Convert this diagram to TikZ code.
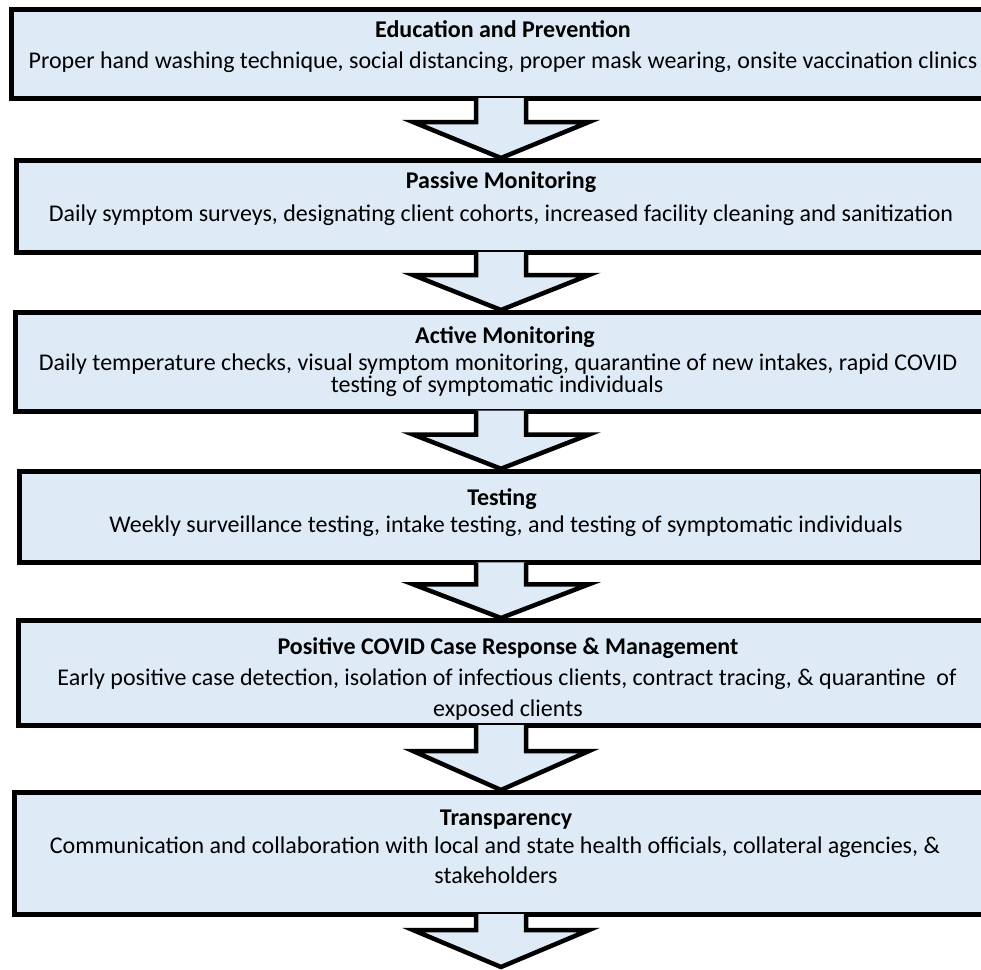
\documentclass[tikz,border=0pt]{standalone}
\usepackage{fontspec}
\setmainfont{Carlito}
\usepackage{tikz}
\usetikzlibrary{calc}

\definecolor{stepfill}{HTML}{DEEBF7}

\tikzset{
  stepbox/.style={draw=black, line width=5pt, fill=stepfill, inner sep=0pt},
  steptitle/.style={anchor=base, inner sep=0pt, font=\fontsize{24}{28}\selectfont\bfseries},
  steptext/.style={anchor=base, inner sep=0pt, font=\fontsize{24}{28}\selectfont},
  blockarrow/.style={draw=black, line width=4.5pt, fill=stepfill, line join=miter}
}

% block arrow from the bottom of one box to the top of the next
\newcommand{\flowarrow}[3]{%
  \draw[blockarrow] ($(#1.south)+(-25,-3)$) -- ($(#1.south)+(-25,#3)$)
    -- ($(#1.south)+(-88,#3)$) -- (#2) -- ($(#1.south)+(88,#3)$)
    -- ($(#1.south)+(25,#3)$) -- ($(#1.south)+(25,-3)$);}

\begin{document}
\begin{tikzpicture}[x=1pt, y=-1pt]
    \useasboundingbox (0,0) rectangle (981,969);
    \clip (0,0) rectangle (981,969);

    \node [stepbox, minimum width=979, minimum height=89] (educ) at (501,54) {};
    \node [stepbox, minimum width=970, minimum height=92] (passive) at (501,206.5) {};
    \node [stepbox, minimum width=972, minimum height=98.5] (active) at (501,361.75) {};
    \node [stepbox, minimum width=963, minimum height=91.5] (testing) at (501,517) {};
    \node [stepbox, minimum width=965, minimum height=105] (positive) at (501,673) {};
    \node [stepbox, minimum width=973, minimum height=122] (transp) at (501,853.5) {};
    \coordinate (bottomtip) at (501,967);

    \flowarrow{educ}{passive.north}{21}
    \flowarrow{passive}{active.north}{20}
    \flowarrow{active}{testing.north}{21}
    \flowarrow{testing}{positive.north}{19}
    \flowarrow{positive}{transp.north}{23}
    \flowarrow{transp}{bottomtip}{13}

    \node [steptitle] (eductitle) at (503,37) {Education and Prevention};
    \node [steptext] (eductext) at (503,68) {Proper hand washing technique, social distancing, proper mask wearing, onsite vaccination clinics};

    \node [steptitle] (passivetitle) at (501,188) {Passive Monitoring};
    \node [steptext] (passivetext) at (501,221) {Daily symptom surveys, designating client cohorts, increased facility cleaning and sanitization};

    \node [steptitle] (activetitle) at (505,343) {Active Monitoring};
    \node [steptext] (activetext) at (498,370) {Daily temperature checks, visual symptom monitoring, quarantine of new intakes, rapid COVID};
    \node [steptext] (activetextb) at (497,392) {testing of symptomatic individuals};

    \node [steptitle] (testingtitle) at (502,505) {Testing};
    \node [steptext] (testingtext) at (506,532) {Weekly surveillance testing, intake testing, and testing of symptomatic individuals};

    \node [steptitle] (positivetitle) at (508,654) {Positive COVID Case Response \& Management};
    \node [steptext] (positivetext) at (507,685) {Early positive case detection, isolation of infectious clients, contract tracing, \& quarantine\ \ of};
    \node [steptext] (positivetextb) at (508,716) {exposed clients};

    \node [steptitle] (transptitle) at (506,825) {Transparency};
    \node [steptext] (transptext) at (495,853) {Communication and collaboration with local and state health officials, collateral agencies, \&};
    \node [steptext] (transptextb) at (496,883) {stakeholders};
\end{tikzpicture}
\end{document}
